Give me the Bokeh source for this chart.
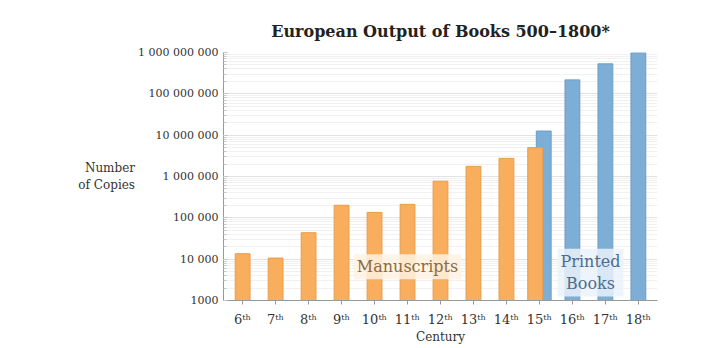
from bokeh.plotting import figure
from bokeh.models import FixedTicker, LogTicker, Label, Range1d
from bokeh.embed import file_html
from bokeh.resources import INLINE

# Estimated copies produced per century (Buringh & van Zanden)
centuries = [6, 7, 8, 9, 10, 11, 12, 13, 14, 15, 16, 17, 18]
century_labels = ["6ᵗʰ", "7ᵗʰ", "8ᵗʰ", "9ᵗʰ", "10ᵗʰ", "11ᵗʰ", "12ᵗʰ",
                  "13ᵗʰ", "14ᵗʰ", "15ᵗʰ", "16ᵗʰ", "17ᵗʰ", "18ᵗʰ"]

manuscript_centuries = [6, 7, 8, 9, 10, 11, 12, 13, 14, 15]
manuscripts = [13552, 10639, 43702, 201742, 135637, 212030, 768721,
               1761951, 2746951, 4999161]

printed_centuries = [15, 16, 17, 18]
printed = [12589000, 217444000, 531941000, 983874000]

y_ticks = [1e3, 1e4, 1e5, 1e6, 1e7, 1e8, 1e9]
y_tick_labels = ["1000", "10 000", "100 000", "1 000 000", "10 000 000",
                 "100 000 000", "1 000 000 000"]

SERIF = "DejaVu Serif"
ORANGE = "#F8AE5C"
BLUE = "#7DAFD6"
TEXT = "#333333"

p = figure(width=720, height=348, y_axis_type="log",
           x_range=Range1d(5.42, 18.58), y_range=Range1d(1e3, 1e9),
           output_backend="svg", toolbar_location=None,
           min_border_left=223, min_border_right=63,
           min_border_top=52, min_border_bottom=48)

p.title.text = "European Output of Books 500–1800*"
p.title.align = "center"
p.title.text_font = SERIF
p.title.text_font_size = "16px"
p.title.text_font_style = "bold"
p.title.text_color = "#222222"
p.title.offset = 0
p.title.standoff = 23
p.outline_line_color = None
p.background_fill_color = "white"

# 15th century has both series: nudge them apart so they overlap
overlap_shift = 0.13
ms_x = [c - overlap_shift if c in printed_centuries else c for c in manuscript_centuries]
pr_x = [c + overlap_shift if c in manuscript_centuries else c for c in printed_centuries]

bar_w = 0.45
p.vbar(x=pr_x, top=printed, bottom=1e3, width=bar_w,
       fill_color=BLUE, line_color="#6A9DC6", line_width=1)
p.vbar(x=ms_x, top=manuscripts, bottom=1e3, width=bar_w,
       fill_color=ORANGE, line_color="#E99D4C", line_width=1)

# Axes
p.xaxis.ticker = FixedTicker(ticks=centuries)
p.xaxis.major_label_overrides = {c: lab for c, lab in zip(centuries, century_labels)}
p.xaxis.axis_label = "Century"
p.xaxis.axis_label_text_font = SERIF
p.xaxis.axis_label_text_font_style = "normal"
p.xaxis.axis_label_text_font_size = "12px"
p.xaxis.axis_label_text_color = TEXT
p.xaxis.axis_label_standoff = 0
p.xaxis.major_label_text_font = SERIF
p.xaxis.major_label_text_font_size = "13px"
p.xaxis.major_label_text_color = TEXT
p.xaxis.major_label_standoff = 7
p.xaxis.major_tick_out = 4
p.xaxis.major_tick_in = 0
p.xaxis.minor_tick_line_color = None
p.xaxis.axis_line_color = "#999999"
p.xaxis.major_tick_line_color = "#999999"

p.yaxis.ticker = LogTicker(num_minor_ticks=10, desired_num_ticks=7)
p.yaxis.major_label_overrides = {t: lab for t, lab in zip(y_ticks, y_tick_labels)}
p.yaxis.axis_label = "Number\nof Copies"
p.yaxis.axis_label_orientation = "horizontal"
p.yaxis.axis_label_text_font = SERIF
p.yaxis.axis_label_text_font_style = "normal"
p.yaxis.axis_label_text_font_size = "12px"
p.yaxis.axis_label_text_color = TEXT
p.yaxis.axis_label_standoff = 0
p.yaxis.major_label_text_font = SERIF
p.yaxis.major_label_text_font_size = "11px"
p.yaxis.major_label_text_color = TEXT
p.yaxis.major_tick_in = 4
p.yaxis.major_tick_out = 0
p.yaxis.minor_tick_in = 3
p.yaxis.minor_tick_out = 0
p.yaxis.axis_line_color = "#999999"
p.yaxis.major_tick_line_color = "#aaaaaa"
p.yaxis.minor_tick_line_color = "#c8c8c8"

p.xgrid.grid_line_color = None
p.ygrid.grid_line_color = "#e2e2e2"
p.ygrid.minor_grid_line_color = "#f1f1f1"

# Series annotations
p.add_layout(Label(x=11, y=6600, text="Manuscripts", text_align="center",
                   text_baseline="middle", text_font=SERIF, text_font_size="16px",
                   text_color="#8A6B42", background_fill_color="#FFF2E2",
                   background_fill_alpha=0.85, padding=3))
p.add_layout(Label(x=16.55, y=4750, text="Printed\nBooks", text_align="center",
                   text_baseline="middle", text_font=SERIF, text_font_size="16px",
                   text_color="#4E6C8C", background_fill_color="#EAF2FA",
                   background_fill_alpha=0.85, padding=3))

open("out.html", "w").write(file_html(p, INLINE))
